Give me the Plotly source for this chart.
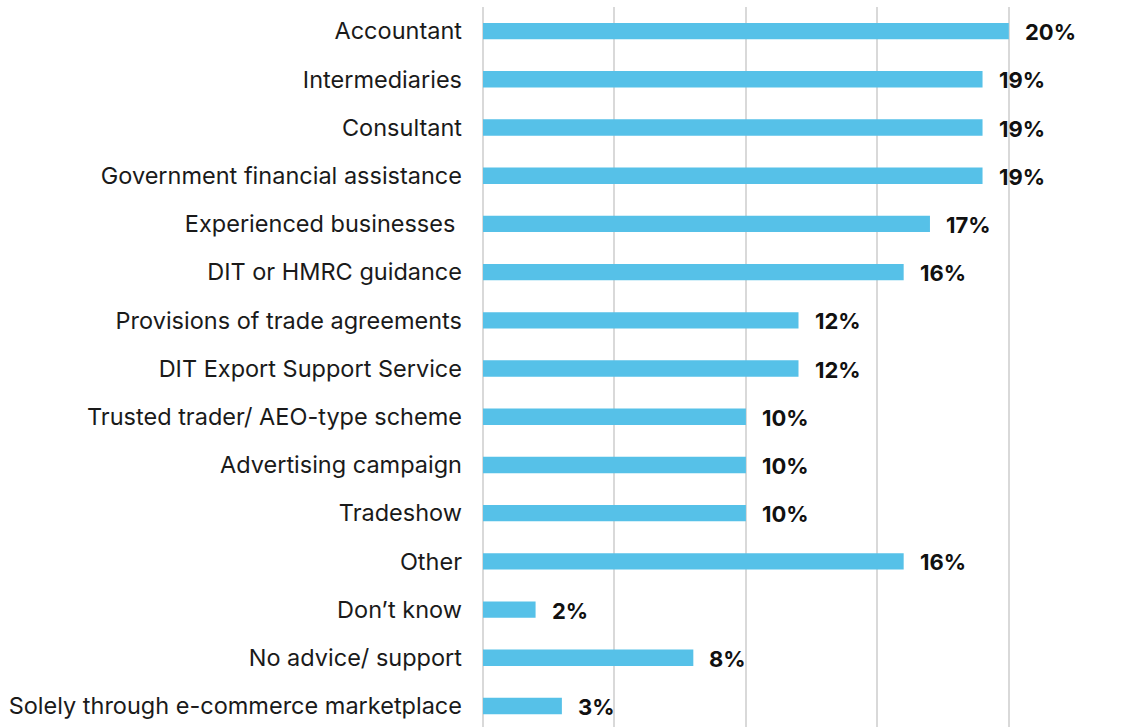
import plotly.graph_objects as go

categories = [
    "Accountant",
    "Intermediaries",
    "Consultant",
    "Government financial assistance",
    "Experienced businesses ",
    "DIT or HMRC guidance",
    "Provisions of trade agreements",
    "DIT Export Support Service",
    "Trusted trader/ AEO-type scheme",
    "Advertising campaign",
    "Tradeshow",
    "Other",
    "Don\u2019t know",
    "No advice/ support",
    "Solely through e-commerce marketplace",
]
values = [20, 19, 19, 19, 17, 16, 12, 12, 10, 10, 10, 16, 2, 8, 3]
value_labels = [f"{v}%" for v in values]

BAR_COLOR = "#56C1E8"
FONT = "Inter"

fig = go.Figure(
    go.Bar(
        x=values,
        y=categories,
        orientation="h",
        width=0.34,
        marker=dict(color=BAR_COLOR, line=dict(width=0)),
        hoverinfo="skip",
    )
)

for cat, v, lab in zip(categories, values, value_labels):
    fig.add_annotation(
        x=v, y=cat, text=f"<b>{lab}</b>", showarrow=False,
        xanchor="left", xshift=14, yshift=-1,
        font=dict(family=FONT, size=22, color="#111111"),
    )

fig.update_layout(
    width=1134, height=727,
    margin=dict(l=483, r=20, t=7, b=0),
    paper_bgcolor="white", plot_bgcolor="white",
    showlegend=False,
    font=dict(family=FONT, size=23.5, color="#1a1a1a"),
    xaxis=dict(
        range=[0, 24], dtick=5, showticklabels=False,
        showgrid=True, gridcolor="#d9d9d9", gridwidth=1.5,
        zeroline=True, zerolinecolor="#d9d9d9", zerolinewidth=1.5,
        fixedrange=True,
    ),
    yaxis=dict(
        range=[14.436, -0.5], showgrid=False, zeroline=False,
        ticks="", ticklabelstandoff=20,
        tickfont=dict(family=FONT, size=23.5, color="#1a1a1a"),
        fixedrange=True,
    ),
)

fig.write_html("out.html")
